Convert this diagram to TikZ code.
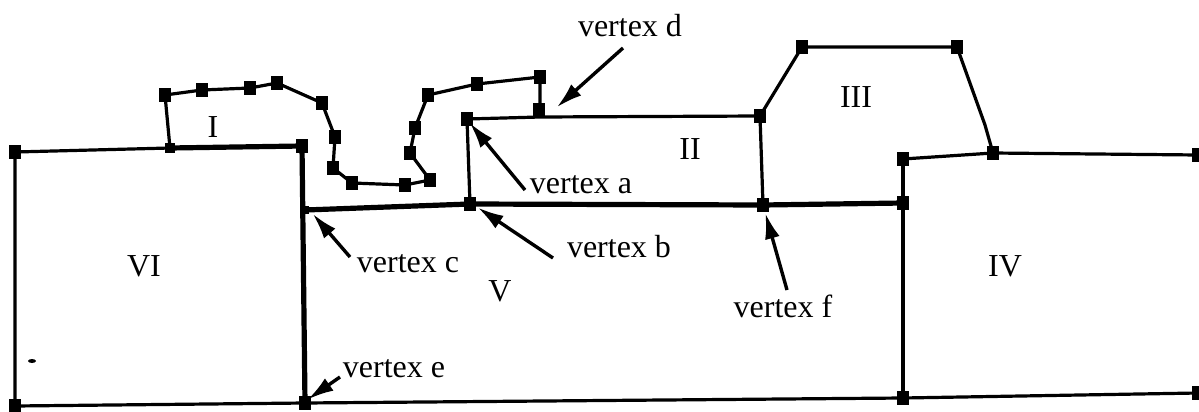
\documentclass[tikz,border=0pt]{standalone}
\usepackage{fontspec}
\setmainfont{Liberation Serif}
\usetikzlibrary{arrows.meta}
\begin{document}
\begin{tikzpicture}[x=1pt,y=-1pt,
  thinln/.style={line width=3.2pt,line join=round},
  thickln/.style={line width=5.2pt,line join=round},
  vsq/.style={rectangle,fill=black,inner sep=0pt,minimum width=12pt,minimum height=14pt},
  lbl/.style={font=\fontsize{32}{38}\selectfont,inner sep=1pt},
  reg/.style={font=\fontsize{32}{38}\selectfont,inner sep=1pt},
  ptr/.style={line width=3.4pt,-{Latex[length=26pt,width=15pt]},shorten >=1pt}]
\useasboundingbox (0,0) rectangle (1199,412);
% vertices
\foreach \n/\px/\py in {
  v1/15/152, v2/170/148, v3/302/146, vc/305/210, ve/305/403, v4/15/406,
  i1/165/95, i2/202/90, i3/250/88, i4/277/83, i5/322/103, i6/335/137,
  i7/333/168, i8/352/183, i9/405/185, i10/430/180, i11/410/153, i12/415/128,
  i13/428/95, i14/477/84, i15/540/77, i16/539/110, i17/540/117,
  va/467/119, vb/470/204, v5/760/116, vf/763/205,
  w1/802/47, w2/957/47, w3/993/153,
  u1/903/159, u2/903/203, u3/903/398, u4/1198/155, u5/1198/393}
  {\coordinate (\n) at (\px,\py);}
% region VI
\draw[thinln] (v1) -- (v2);
\draw[thickln] (v2) -- (v3) -- (ve);
\draw[thinln] (ve) -- (v4) -- (v1);
% bottom line
\draw[thinln] (ve) -- (u3) -- (u5);
% V top line
\draw[thickln] (vc) -- (vb) -- (vf) -- (u2);
% region I
\draw[thinln] (v2) -- (i1) -- (i2) -- (i3) -- (i4) -- (i5) -- (i6) -- (i7) -- (i8)
  -- (i9) -- (i10) -- (i11) -- (i12) -- (i13) -- (i14) -- (i15) -- (i17);
% region II
\draw[thinln] (va) -- (i17) -- (v5) -- (vf);
\draw[thinln] (va) -- (vb);
% region III
\draw[thinln] (v5) -- (w1) -- (w2) -- (985,125) -- (w3);
% region IV
\draw[thinln] (u1) -- (w3) -- (u4);
\draw[thinln] (u1) -- (u3);
% vertex markers
\foreach \n in {v1,v3,ve,v4,i1,i2,i3,i4,i5,i6,i7,i8,i9,i10,i11,i12,i13,i14,i15,i16,
  va,vb,v5,vf,w1,w2,w3,u1,u2,u3,u4,u5}
  {\node[vsq] (m\n) at (\n) {};}
\node[vsq,minimum width=10pt,minimum height=10pt] (mv2) at (v2) {};
\node[vsq,minimum width=8pt,minimum height=8pt] (mvc) at (vc) {};
% region labels
\node[reg] (rI) at (213,127) {I};
\node[reg] (rII) at (690,149) {II};
\node[reg] (rIII) at (856,97) {III};
\node[reg] (rIV) at (1005,266) {IV};
\node[reg] (rV) at (500,291) {V};
\node[reg] (rVI) at (144,266) {VI};
% vertex labels
\node[lbl] (ld) at (630,26) {vertex d};
\node[lbl] (la) at (581,185) {vertex a};
\node[lbl] (lb) at (619,247) {vertex b};
\node[lbl] (lc) at (408,264) {vertex c};
\node[lbl] (le) at (394,369) {vertex e};
\node[lbl] (lf) at (783,306) {vertex f};
% arrow tails and heads
\coordinate (td) at (623,48);
\coordinate (ta) at (525,190);
\coordinate (tb) at (553,258);
\coordinate (tc) at (350,257);
\coordinate (te) at (340,377);
\coordinate (tf) at (787,290);
\coordinate (hd) at (556,108);
\coordinate (ha) at (469,122);
\coordinate (hb) at (477,207);
\coordinate (hc) at (312,213);
\coordinate (he) at (307,400);
\coordinate (hf) at (765,212);
\draw[ptr] (td) -- (hd);
\draw[ptr] (ta) -- (ha);
\draw[ptr] (tb) -- (hb);
\draw[ptr] (tc) -- (hc);
\draw[ptr] (te) -- (he);
\draw[ptr] (tf) -- (hf);
% stray mark
\fill (32,361) ellipse (4pt and 2pt);
\end{tikzpicture}
\end{document}
